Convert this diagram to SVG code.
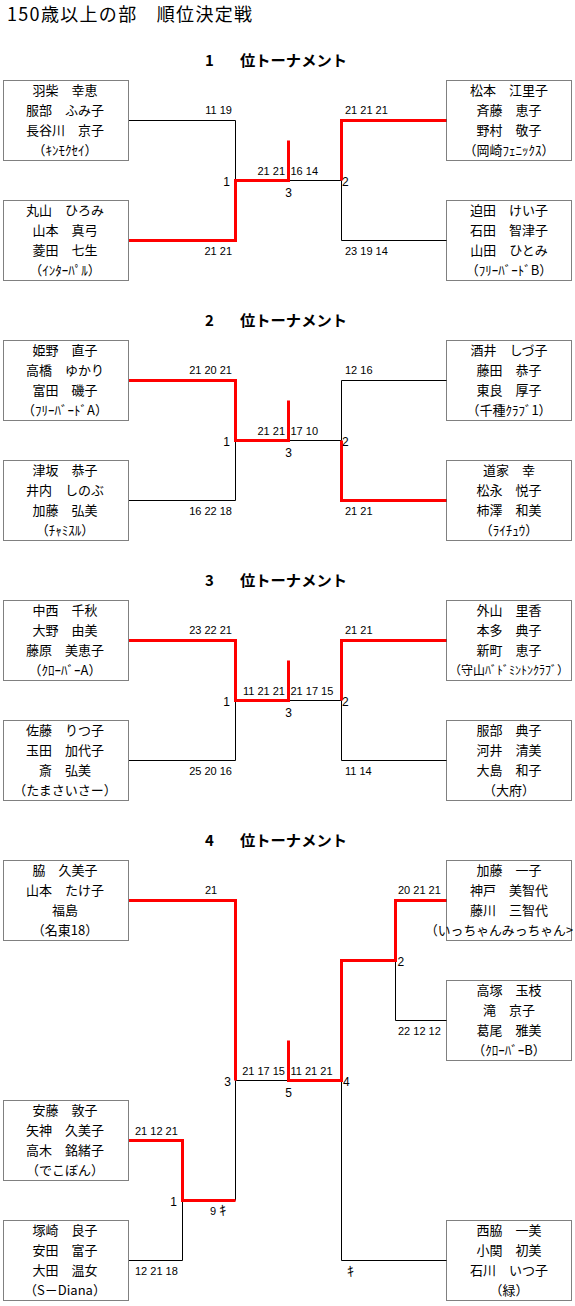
<svg xmlns="http://www.w3.org/2000/svg" width="575" height="1306" viewBox="0 0 575 1306">
<style>
.bg{fill:#fff}
.box{fill:#fff;stroke:#000;stroke-width:1;stroke-dasharray:1 1}
.nm{font-family:"Noto Sans CJK JP","Noto Sans CJK SC",sans-serif;font-size:13px;text-anchor:middle;fill:#000}
.ttl{font-family:"Noto Sans CJK JP",sans-serif;font-size:18px;fill:#000}
.hd{font-family:"Noto Sans CJK JP",sans-serif;font-size:15px;font-weight:bold;fill:#000}
.sc{font-family:"Liberation Sans","Noto Sans CJK JP",sans-serif;font-size:11px;fill:#000}
.kn{font-family:"Noto Sans CJK JP",sans-serif;font-size:14px;fill:#000}
.nd{font-family:"Liberation Sans",sans-serif;font-size:12px;fill:#000}
.e{text-anchor:end}
.m{text-anchor:middle}
.l{fill:none;stroke:#000;stroke-width:1}
.w{fill:none;stroke:#f00;stroke-width:3;stroke-linejoin:miter;stroke-linecap:butt}
</style>
<rect class="bg" x="0" y="0" width="575" height="1306"/>
<g id="title">
<text class="ttl" x="7" y="21" textLength="245" lengthAdjust="spacing">150歳以上の部　順位決定戦</text>
</g>
<g id="headers">
<text class="hd" x="205" y="66">1</text><text class="hd" x="240" y="66" textLength="107" lengthAdjust="spacingAndGlyphs">位トーナメント</text>
<text class="hd" x="205" y="326">2</text><text class="hd" x="240" y="326" textLength="107" lengthAdjust="spacingAndGlyphs">位トーナメント</text>
<text class="hd" x="205" y="586">3</text><text class="hd" x="240" y="586" textLength="107" lengthAdjust="spacingAndGlyphs">位トーナメント</text>
<text class="hd" x="205" y="846">4</text><text class="hd" x="240" y="846" textLength="107" lengthAdjust="spacingAndGlyphs">位トーナメント</text>
</g>
<g id="connectors">
<path class="l" d="M129,120.5H235.5V180.5M288.5,180.5H341.5M341.5,180.5V240.5H447"/>
<path class="w" d="M129,240.5H235.5V180.5H288.5V140.5M447,120.5H341.5V180.5"/>
<path class="l" d="M235.5,440.5V500.5H129M288.5,440.5H341.5V380.5H447"/>
<path class="w" d="M129,380.5H235.5V440.5H288.5V400.5M341.5,440.5V500.5H447"/>
<path class="l" d="M235.5,700.5V760.5H129M288.5,700.5H341.5M341.5,700.5V760.5H447"/>
<path class="w" d="M129,640.5H235.5V700.5H288.5V660.5M447,640.5H341.5V700.5"/>
<path class="l" d="M235.5,1080.5H288.5M395.5,960.5V1020.5H447M235.5,1080.5V1200.5M182.5,1200.5V1260.5H129M341.5,1080.5V1260.5H447"/>
<path class="w" d="M129,900.5H235.5V1080.5M288.5,1040.5V1080.5H341.5V960.5H395.5V900.5H447M129,1140.5H182.5V1200.5H235.5"/>
</g>
<g id="labels">
<text class="sc e" x="232" y="114">11 19</text>
<text class="sc e" x="232" y="255">21 21</text>
<text class="sc" x="345" y="114">21 21 21</text>
<text class="sc" x="345" y="255">23 19 14</text>
<text class="sc e" x="285" y="175">21 21</text>
<text class="sc" x="290.5" y="175">16 14</text>
<text class="nd e" x="230" y="186">1</text>
<text class="nd" x="342" y="186">2</text>
<text class="nd m" x="288.5" y="197">3</text>

<text class="sc e" x="232" y="374">21 20 21</text>
<text class="sc e" x="232" y="515">16 22 18</text>
<text class="sc" x="345" y="374">12 16</text>
<text class="sc" x="345" y="515">21 21</text>
<text class="sc e" x="285" y="435">21 21</text>
<text class="sc" x="290.5" y="435">17 10</text>
<text class="nd e" x="230" y="446">1</text>
<text class="nd" x="342" y="446">2</text>
<text class="nd m" x="288.5" y="457">3</text>

<text class="sc e" x="232" y="634">23 22 21</text>
<text class="sc e" x="232" y="775">25 20 16</text>
<text class="sc" x="345" y="634">21 21</text>
<text class="sc" x="345" y="775">11 14</text>
<text class="sc e" x="285" y="695">11 21 21</text>
<text class="sc" x="290.5" y="695">21 17 15</text>
<text class="nd e" x="230" y="706">1</text>
<text class="nd" x="342" y="706">2</text>
<text class="nd m" x="288.5" y="717">3</text>

<text class="sc" x="205" y="894">21</text>
<text class="sc" x="398" y="894">20 21 21</text>
<text class="sc" x="398" y="1035">22 12 12</text>
<text class="nd" x="397.5" y="966">2</text>
<text class="sc e" x="285" y="1075">21 17 15</text>
<text class="sc" x="290.5" y="1075">11 21 21</text>
<text class="nd e" x="231" y="1086">3</text>
<text class="nd" x="343" y="1086">4</text>
<text class="nd m" x="288.5" y="1097">5</text>
<text class="sc" x="135" y="1135">21 12 21</text>
<text class="sc" x="135" y="1275">12 21 18</text>
<text class="nd e" x="177" y="1206">1</text>
<text class="sc" x="210" y="1215">9 <tspan class="kn">ｷ</tspan></text>
<text class="kn" x="347" y="1276">ｷ</text>
</g>

<g id="s1-L1"><rect class="box" x="3.5" y="80.5" width="125" height="80"/>
<text class="nm" x="65" y="95">羽柴　幸恵</text><text class="nm" x="65" y="115">服部　ふみ子</text><text class="nm" x="65" y="135">長谷川　京子</text><text class="nm" x="65" y="155">（ｷﾝﾓｸｾｲ）</text></g>
<g id="s1-L2"><rect class="box" x="3.5" y="200.5" width="125" height="80"/>
<text class="nm" x="65" y="215">丸山　ひろみ</text><text class="nm" x="65" y="235">山本　真弓</text><text class="nm" x="65" y="255">菱田　七生</text><text class="nm" x="65" y="275">（ｲﾝﾀｰﾊﾟﾙ）</text></g>
<g id="s1-R1"><rect class="box" x="446.5" y="80.5" width="125" height="80"/>
<text class="nm" x="509" y="95">松本　江里子</text><text class="nm" x="509" y="115">斉藤　恵子</text><text class="nm" x="509" y="135">野村　敬子</text><text class="nm" x="509" y="155">（岡崎ﾌｪﾆｯｸｽ）</text></g>
<g id="s1-R2"><rect class="box" x="446.5" y="200.5" width="125" height="80"/>
<text class="nm" x="509" y="215">迫田　けい子</text><text class="nm" x="509" y="235">石田　智津子</text><text class="nm" x="509" y="255">山田　ひとみ</text><text class="nm" x="509" y="275">（ﾌﾘｰﾊﾞｰﾄﾞB）</text></g>

<g id="s2-L1"><rect class="box" x="3.5" y="340.5" width="125" height="80"/>
<text class="nm" x="65" y="355">姫野　直子</text><text class="nm" x="65" y="375">高橋　ゆかり</text><text class="nm" x="65" y="395">富田　磯子</text><text class="nm" x="65" y="415">（ﾌﾘｰﾊﾞｰﾄﾞA）</text></g>
<g id="s2-L2"><rect class="box" x="3.5" y="460.5" width="125" height="80"/>
<text class="nm" x="65" y="475">津坂　恭子</text><text class="nm" x="65" y="495">井内　しのぶ</text><text class="nm" x="65" y="515">加藤　弘美</text><text class="nm" x="65" y="535">（ﾁｬﾐｽﾙ）</text></g>
<g id="s2-R1"><rect class="box" x="446.5" y="340.5" width="125" height="80"/>
<text class="nm" x="509" y="355">酒井　しづ子</text><text class="nm" x="509" y="375">藤田　恭子</text><text class="nm" x="509" y="395">東良　厚子</text><text class="nm" x="509" y="415">（千種ｸﾗﾌﾞ1）</text></g>
<g id="s2-R2"><rect class="box" x="446.5" y="460.5" width="125" height="80"/>
<text class="nm" x="509" y="475">道家　幸</text><text class="nm" x="509" y="495">松永　悦子</text><text class="nm" x="509" y="515">柿澤　和美</text><text class="nm" x="509" y="535">（ﾗｲﾁｭｳ）</text></g>

<g id="s3-L1"><rect class="box" x="3.5" y="600.5" width="125" height="80"/>
<text class="nm" x="65" y="615">中西　千秋</text><text class="nm" x="65" y="635">大野　由美</text><text class="nm" x="65" y="655">藤原　美恵子</text><text class="nm" x="65" y="675">（ｸﾛｰﾊﾞｰA）</text></g>
<g id="s3-L2"><rect class="box" x="3.5" y="720.5" width="125" height="80"/>
<text class="nm" x="65" y="735">佐藤　りつ子</text><text class="nm" x="65" y="755">玉田　加代子</text><text class="nm" x="65" y="775">斎　弘美</text><text class="nm" x="65" y="795">（たまさいさー）</text></g>
<g id="s3-R1"><rect class="box" x="446.5" y="600.5" width="125" height="80"/>
<text class="nm" x="509" y="615">外山　里香</text><text class="nm" x="509" y="635">本多　典子</text><text class="nm" x="509" y="655">新町　恵子</text><text class="nm" x="509" y="675" style="font-size:12px">（守山ﾊﾞﾄﾞﾐﾝﾄﾝｸﾗﾌﾞ）</text></g>
<g id="s3-R2"><rect class="box" x="446.5" y="720.5" width="125" height="80"/>
<text class="nm" x="509" y="735">服部　典子</text><text class="nm" x="509" y="755">河井　清美</text><text class="nm" x="509" y="775">大島　和子</text><text class="nm" x="509" y="795">（大府）</text></g>

<g id="s4-L1"><rect class="box" x="3.5" y="860.5" width="125" height="80"/>
<text class="nm" x="65" y="875">脇　久美子</text><text class="nm" x="65" y="895">山本　たけ子</text><text class="nm" x="65" y="915">福島</text><text class="nm" x="65" y="935">（名東18）</text></g>
<g id="s4-L2"><rect class="box" x="3.5" y="1100.5" width="125" height="80"/>
<text class="nm" x="65" y="1115">安藤　敦子</text><text class="nm" x="65" y="1135">矢神　久美子</text><text class="nm" x="65" y="1155">高木　銘緒子</text><text class="nm" x="65" y="1175">（でこぼん）</text></g>
<g id="s4-L3"><rect class="box" x="3.5" y="1220.5" width="125" height="80"/>
<text class="nm" x="65" y="1235">塚崎　良子</text><text class="nm" x="65" y="1255">安田　富子</text><text class="nm" x="65" y="1275">大田　温女</text><text class="nm" x="65" y="1295">（S－Diana）</text></g>
<g id="s4-R1"><rect class="box" x="446.5" y="860.5" width="125" height="80"/>
<text class="nm" x="509" y="875">加藤　一子</text><text class="nm" x="509" y="895">神戸　美智代</text><text class="nm" x="509" y="915">藤川　三智代</text><text class="nm" x="425" y="935" style="text-anchor:start" textLength="148" lengthAdjust="spacingAndGlyphs">（いっちゃんみっちゃん&gt;</text></g>
<g id="s4-R2"><rect class="box" x="446.5" y="980.5" width="125" height="80"/>
<text class="nm" x="509" y="995">高塚　玉枝</text><text class="nm" x="509" y="1015">滝　京子</text><text class="nm" x="509" y="1035">葛尾　雅美</text><text class="nm" x="509" y="1055">（ｸﾛｰﾊﾞｰB）</text></g>
<g id="s4-R3"><rect class="box" x="446.5" y="1220.5" width="125" height="80"/>
<text class="nm" x="509" y="1235">西脇　一美</text><text class="nm" x="509" y="1255">小関　初美</text><text class="nm" x="509" y="1275">石川　いつ子</text><text class="nm" x="509" y="1295">（緑）</text></g>
</svg>
